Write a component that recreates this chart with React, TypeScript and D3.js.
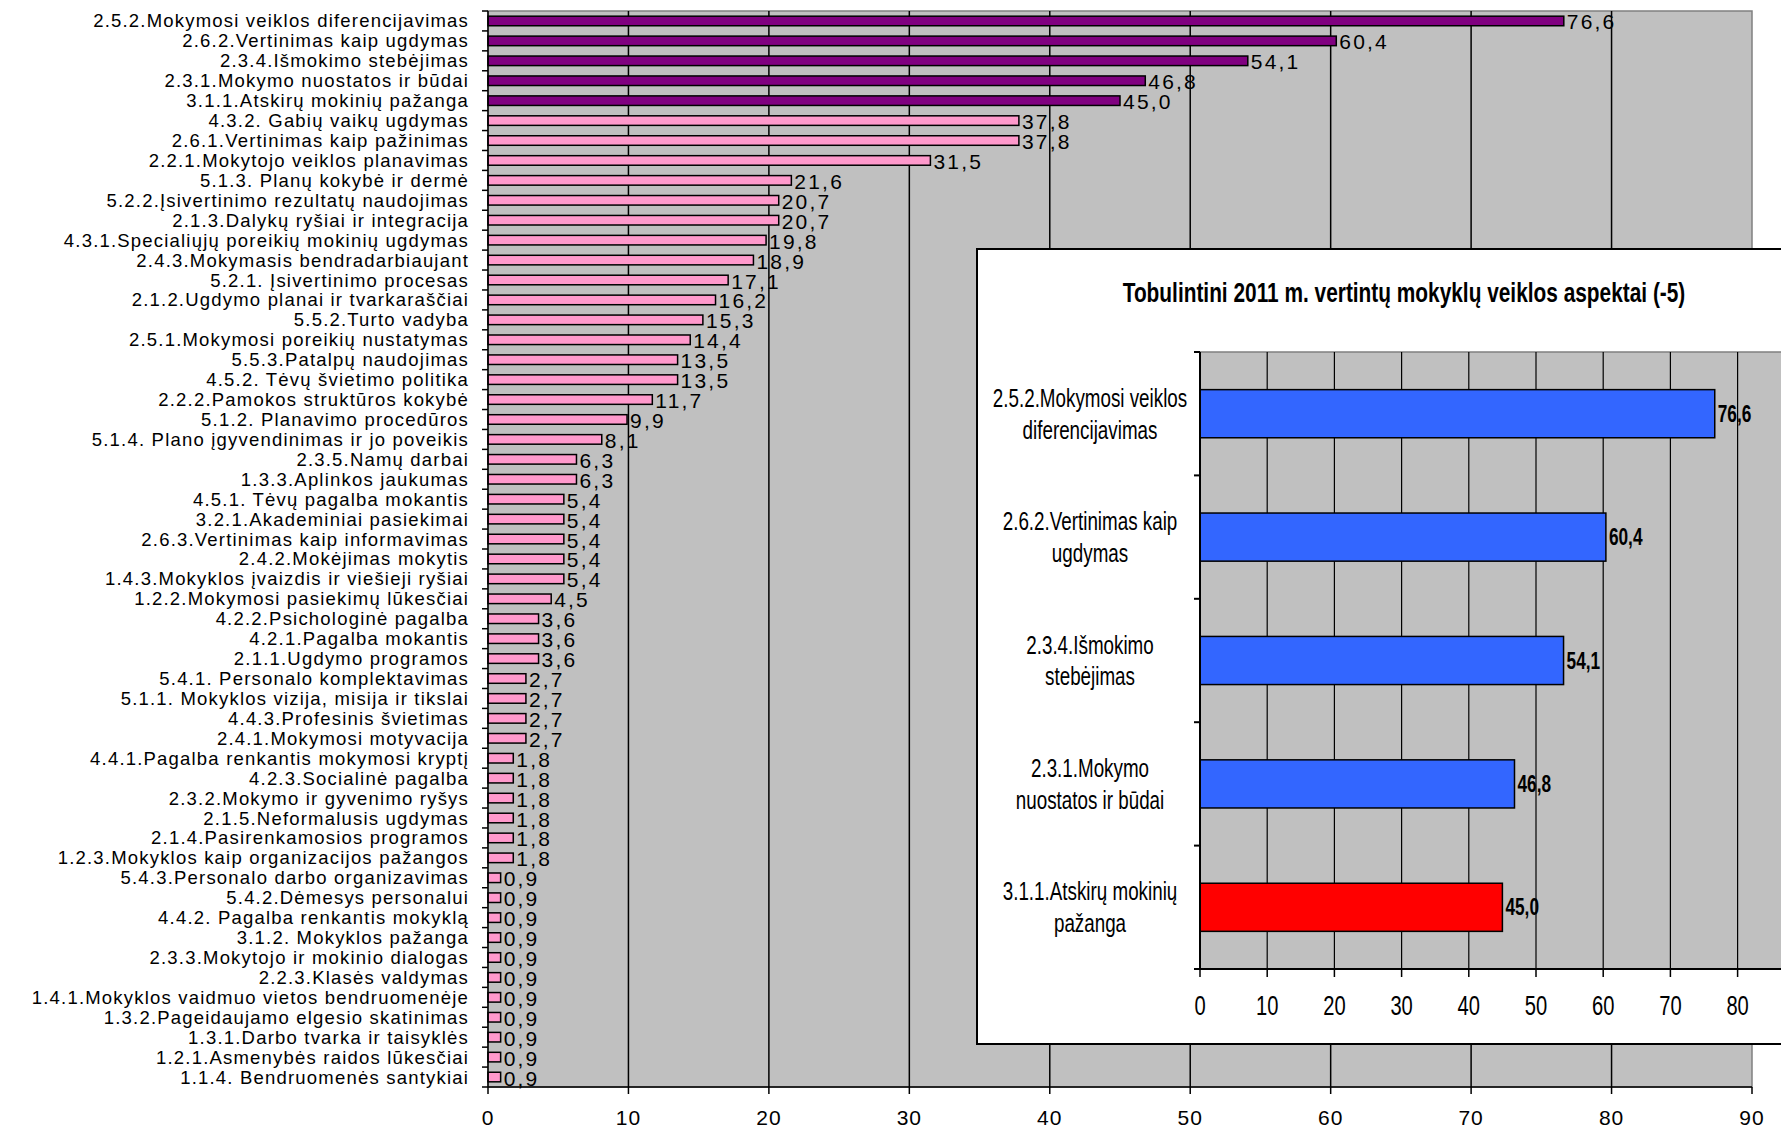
import React from 'react';
import * as d3 from 'd3';

const width = 1781;
const height = 1128;

// main chart data, top to bottom
const categories = [
  '2.5.2.Mokymosi veiklos diferencijavimas',
  '2.6.2.Vertinimas kaip ugdymas',
  '2.3.4.Išmokimo stebėjimas',
  '2.3.1.Mokymo nuostatos ir būdai',
  '3.1.1.Atskirų mokinių pažanga',
  '4.3.2. Gabių vaikų ugdymas',
  '2.6.1.Vertinimas kaip pažinimas',
  '2.2.1.Mokytojo veiklos planavimas',
  '5.1.3. Planų kokybė ir dermė',
  '5.2.2.Įsivertinimo rezultatų naudojimas',
  '2.1.3.Dalykų ryšiai ir integracija',
  '4.3.1.Specialiųjų poreikių mokinių ugdymas',
  '2.4.3.Mokymasis bendradarbiaujant',
  '5.2.1. Įsivertinimo procesas',
  '2.1.2.Ugdymo planai ir tvarkaraščiai',
  '5.5.2.Turto vadyba',
  '2.5.1.Mokymosi poreikių nustatymas',
  '5.5.3.Patalpų naudojimas',
  '4.5.2. Tėvų švietimo politika',
  '2.2.2.Pamokos struktūros kokybė',
  '5.1.2. Planavimo procedūros',
  '5.1.4. Plano įgyvendinimas ir jo poveikis',
  '2.3.5.Namų darbai',
  '1.3.3.Aplinkos jaukumas',
  '4.5.1. Tėvų pagalba mokantis',
  '3.2.1.Akademiniai pasiekimai',
  '2.6.3.Vertinimas kaip informavimas',
  '2.4.2.Mokėjimas mokytis',
  '1.4.3.Mokyklos įvaizdis ir viešieji ryšiai',
  '1.2.2.Mokymosi pasiekimų lūkesčiai',
  '4.2.2.Psichologinė pagalba',
  '4.2.1.Pagalba mokantis',
  '2.1.1.Ugdymo programos',
  '5.4.1. Personalo komplektavimas',
  '5.1.1. Mokyklos vizija, misija ir tikslai',
  '4.4.3.Profesinis švietimas',
  '2.4.1.Mokymosi motyvacija',
  '4.4.1.Pagalba renkantis mokymosi kryptį',
  '4.2.3.Socialinė pagalba',
  '2.3.2.Mokymo ir gyvenimo ryšys',
  '2.1.5.Neformalusis ugdymas',
  '2.1.4.Pasirenkamosios programos',
  '1.2.3.Mokyklos kaip organizacijos pažangos',
  '5.4.3.Personalo darbo organizavimas',
  '5.4.2.Dėmesys personalui',
  '4.4.2. Pagalba renkantis mokyklą',
  '3.1.2. Mokyklos pažanga',
  '2.3.3.Mokytojo ir mokinio dialogas',
  '2.2.3.Klasės valdymas',
  '1.4.1.Mokyklos vaidmuo vietos bendruomenėje',
  '1.3.2.Pageidaujamo elgesio skatinimas',
  '1.3.1.Darbo tvarka ir taisyklės',
  '1.2.1.Asmenybės raidos lūkesčiai',
  '1.1.4. Bendruomenės santykiai',
];

const values = [
  76.6, 60.4, 54.1, 46.8, 45.0, 37.8, 37.8, 31.5, 21.6, 20.7, 20.7, 19.8, 18.9,
  17.1, 16.2, 15.3, 14.4, 13.5, 13.5, 11.7, 9.9, 8.1, 6.3, 6.3, 5.4, 5.4, 5.4,
  5.4, 5.4, 4.5, 3.6, 3.6, 3.6, 2.7, 2.7, 2.7, 2.7, 1.8, 1.8, 1.8, 1.8, 1.8,
  1.8, 0.9, 0.9, 0.9, 0.9, 0.9, 0.9, 0.9, 0.9, 0.9, 0.9, 0.9,
];

const xTicks = [0, 10, 20, 30, 40, 50, 60, 70, 80, 90];

// inset: the five to improve
const insetTitle = 'Tobulintini 2011 m. vertintų mokyklų veiklos aspektai (-5)';
const insetLabels = [
  ['2.5.2.Mokymosi veiklos', 'diferencijavimas'],
  ['2.6.2.Vertinimas kaip', 'ugdymas'],
  ['2.3.4.Išmokimo', 'stebėjimas'],
  ['2.3.1.Mokymo', 'nuostatos ir būdai'],
  ['3.1.1.Atskirų mokinių', 'pažanga'],
];
const insetValues = [76.6, 60.4, 54.1, 46.8, 45.0];
const insetTicks = [0, 10, 20, 30, 40, 50, 60, 70, 80, 90];

const fmt = (v: number) => v.toFixed(1).replace('.', ',');

const font = '"Liberation Sans", Arial, sans-serif';

const main = { left: 488, right: 1752, top: 11, bottom: 1087 };
const inset = { left: 977, top: 249, right: 1800, bottom: 1044 };
const insetPlot = { left: 1200, top: 352, bottom: 969 };

const App = () => {
  const x = d3.scaleLinear().domain([0, 90]).range([main.left, main.right]);
  const y = d3
    .scaleBand<string>()
    .domain(categories)
    .range([main.top, main.bottom])
    .paddingInner(0.52)
    .paddingOuter(0.26);
  const step = y.step();

  const ix = d3
    .scaleLinear()
    .domain([0, 90])
    .range([insetPlot.left, insetPlot.left + 9 * 67.2]);
  const iy = d3
    .scaleBand<string>()
    .domain(insetLabels.map((d) => d[0]))
    .range([insetPlot.top, insetPlot.bottom])
    .paddingInner(0.61)
    .paddingOuter(0.305);
  const istep = iy.step();

  const sx = 0.71;

  return (
    <svg
      width={width}
      height={height}
      style={{ position: 'absolute', left: 0, top: 0, background: '#fff' }}
      fontFamily={font}
    >
      {/* main plot area */}
      <rect
        x={main.left}
        y={main.top}
        width={main.right - main.left}
        height={main.bottom - main.top}
        fill="#c0c0c0"
        stroke="#808080"
        strokeWidth={1.5}
      />
      {xTicks.slice(1, -1).map((t) => (
        <line key={t} x1={x(t)} x2={x(t)} y1={main.top} y2={main.bottom} stroke="#000" strokeWidth={1.5} />
      ))}
      {/* bars */}
      {categories.map((c, i) => (
        <rect
          key={c}
          x={x(0)}
          y={y(c)}
          width={x(values[i]) - x(0)}
          height={y.bandwidth()}
          fill={i < 5 ? '#800080' : '#ff99cc'}
          stroke="#000"
          strokeWidth={1.5}
        />
      ))}
      {/* value labels */}
      {categories.map((c, i) => (
        <text
          key={c}
          x={x(values[i]) + 3}
          y={(y(c) as number) + y.bandwidth() / 2 + 8.5}
          fontSize={21}
          letterSpacing={2.2}
          fill="#000"
        >
          {fmt(values[i])}
        </text>
      ))}
      {/* y axis */}
      <line x1={main.left} x2={main.left} y1={main.top} y2={main.bottom} stroke="#000" strokeWidth={1.5} />
      {d3.range(categories.length + 1).map((i) => (
        <line
          key={i}
          x1={main.left - 6}
          x2={main.left}
          y1={main.top + i * step}
          y2={main.top + i * step}
          stroke="#000"
          strokeWidth={1.5}
        />
      ))}
      {categories.map((c) => (
        <text
          key={c}
          x={469}
          y={(y(c) as number) + y.bandwidth() / 2 + 6.5}
          fontSize={18.5}
          letterSpacing={1.2}
          textAnchor="end"
          fill="#000"
        >
          {c}
        </text>
      ))}
      {/* x axis */}
      <line x1={main.left} x2={main.right} y1={main.bottom} y2={main.bottom} stroke="#000" strokeWidth={1.5} />
      {xTicks.map((t) => (
        <g key={t}>
          <line x1={x(t)} x2={x(t)} y1={main.bottom} y2={main.bottom + 7} stroke="#000" strokeWidth={1.5} />
          <text x={x(t)} y={main.bottom + 38} fontSize={21} letterSpacing={1} textAnchor="middle" fill="#000">
            {t}
          </text>
        </g>
      ))}

      {/* inset chart */}
      <rect
        x={inset.left}
        y={inset.top}
        width={inset.right - inset.left}
        height={inset.bottom - inset.top}
        fill="#fff"
        stroke="#000"
        strokeWidth={2}
      />
      <g transform={`translate(1404,${inset.top + 53}) scale(0.745,1)`}>
        <text x={0} y={0} fontSize={28} fontWeight="bold" textAnchor="middle" fill="#000">
          {insetTitle}
        </text>
      </g>
      <rect
        x={insetPlot.left}
        y={insetPlot.top}
        width={1800 - insetPlot.left}
        height={insetPlot.bottom - insetPlot.top}
        fill="#c0c0c0"
        stroke="#808080"
        strokeWidth={1.5}
      />
      {insetTicks.slice(1).map((t) => (
        <line key={t} x1={ix(t)} x2={ix(t)} y1={insetPlot.top} y2={insetPlot.bottom} stroke="#000" strokeWidth={1.2} />
      ))}
      {insetLabels.map((l, i) => (
        <rect
          key={l[0]}
          x={ix(0)}
          y={iy(l[0])}
          width={ix(insetValues[i]) - ix(0)}
          height={iy.bandwidth()}
          fill={i === insetLabels.length - 1 ? '#ff0000' : '#3366ff'}
          stroke="#000"
          strokeWidth={1.5}
        />
      ))}
      {insetLabels.map((l, i) => (
        <g
          key={l[0]}
          transform={`translate(${ix(insetValues[i]) + 3},${(iy(l[0]) as number) + iy.bandwidth() / 2 + 8}) scale(0.72,1)`}
        >
          <text x={0} y={0} fontSize={24} fontWeight="bold" fill="#000">
            {fmt(insetValues[i])}
          </text>
        </g>
      ))}
      {/* inset y axis */}
      <line x1={insetPlot.left} x2={insetPlot.left} y1={insetPlot.top} y2={insetPlot.bottom} stroke="#000" strokeWidth={2} />
      {d3.range(insetLabels.length + 1).map((i) => (
        <line
          key={i}
          x1={insetPlot.left - 6}
          x2={insetPlot.left}
          y1={insetPlot.top + i * istep}
          y2={insetPlot.top + i * istep}
          stroke="#000"
          strokeWidth={2}
        />
      ))}
      {insetLabels.map((l) => (
        <g
          key={l[0]}
          transform={`translate(1090,${(iy(l[0]) as number) + iy.bandwidth() / 2}) scale(${sx},1)`}
        >
          {l.map((line, k) => (
            <text key={k} x={0} y={k * 32 - 7} fontSize={26.5} textAnchor="middle" fill="#000">
              {line}
            </text>
          ))}
        </g>
      ))}
      {/* inset x axis */}
      <line x1={insetPlot.left} x2={1800} y1={insetPlot.bottom} y2={insetPlot.bottom} stroke="#000" strokeWidth={2} />
      {insetTicks.map((t) => (
        <g key={t}>
          <line x1={ix(t)} x2={ix(t)} y1={insetPlot.bottom} y2={insetPlot.bottom + 8} stroke="#000" strokeWidth={1.5} />
          {ix(t) < width - 20 && (
            <g transform={`translate(${ix(t)},${insetPlot.bottom + 46}) scale(0.72,1)`}>
              <text x={0} y={0} fontSize={28} textAnchor="middle" fill="#000">
                {t}
              </text>
            </g>
          )}
        </g>
      ))}
    </svg>
  );
};

export default App;
